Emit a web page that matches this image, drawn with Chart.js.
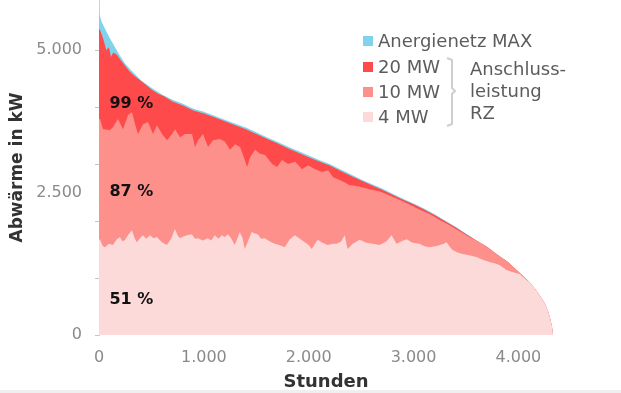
<!DOCTYPE html>
<html>
<head>
<meta charset="utf-8">
<script src="https://cdn.jsdelivr.net/npm/chart.js@4/dist/chart.umd.min.js"></script>
<style>
  html, body { margin: 0; padding: 0; background: #fff; }
  #wrap { position: relative; width: 621px; height: 393px; }
  #band { position: absolute; left: 0; bottom: 0; width: 621px; height: 3px; background: #efefef; }
</style>
</head>
<body>
<div id="wrap">
  <canvas id="chart" width="621" height="393"></canvas>
  <div id="band"></div>
</div>
<script>
// [Stunden, kW] pairs
const anergieMax = [
  [0,5650],[25,5500],[50,5400],[100,5220],[150,5060],[200,4900],[250,4760],[300,4660],
  [400,4470],[500,4340],[600,4220],[700,4130],[800,4060],[900,3970],[1000,3920],[1100,3850],
  [1200,3780],[1300,3710],[1400,3640],[1500,3560],[1600,3470],[1700,3390],[1800,3310],[1900,3230],
  [2000,3150],[2100,3070],[2200,3000],[2300,2910],[2400,2820],[2500,2730],[2600,2650],[2700,2570],
  [2800,2480],[2900,2390],[3000,2310],[3100,2220],[3200,2120],[3300,2010],[3400,1900],[3500,1780],
  [3600,1660],[3700,1550],[3800,1410],[3900,1280],[4000,1110],[4100,940],[4150,830],[4200,700],
  [4250,560],[4280,430],[4300,310],[4320,150],[4330,0]
];
const mw20 = [
  [0,5380],[15,5330],[40,5200],[70,5000],[95,5050],[115,4880],[135,4960],[170,4920],[200,4840],
  [250,4720],[290,4630],[330,4560],[380,4490],[440,4400],[500,4310],[560,4240],[620,4190],[700,4100],
  [800,4030],[900,3940],[1000,3890],[1100,3820],[1200,3750],[1300,3680],[1400,3610],[1500,3530],
  [1600,3445],[1700,3365],[1800,3280],[1900,3200],[2000,3120],[2100,3045],[2200,2975],[2300,2885],
  [2400,2795],[2500,2710],[2600,2630],[2700,2550],[2800,2460],[2900,2375],[3000,2295],[3100,2205],
  [3200,2105],[3300,1998],[3400,1890],[3500,1770],
  [3600,1660],[3700,1550],[3800,1410],[3900,1280],[4000,1110],[4100,940],[4150,830],[4200,700],
  [4250,560],[4280,430],[4300,310],[4320,150],[4330,0]
];
const mw10 = [
  [0,3790],[10,3790],[38,3610],[105,3600],[134,3650],[181,3790],[229,3610],[277,3860],[315,3910],
  [344,3700],[372,3530],[420,3700],[468,3740],[515,3530],[553,3680],[601,3530],[649,3420],[697,3530],
  [725,3610],[773,3470],[821,3530],[887,3530],[916,3300],[945,3420],[992,3530],[1040,3300],[1088,3420],
  [1155,3440],[1202,3390],[1250,3250],[1298,3350],[1345,3300],[1374,3160],[1412,2950],[1441,3120],
  [1489,3250],[1536,3180],[1584,3160],[1651,3000],[1698,2950],[1746,3070],[1803,3000],[1870,3040],
  [1937,2910],[1994,2980],[2061,2910],[2128,2860],[2185,2890],[2233,2770],[2295,2720],[2340,2680],
  [2390,2630],[2440,2620],[2490,2600],[2580,2560],[2680,2520],[2770,2450],[2870,2370],[2960,2290],
  [3060,2200],[3150,2130],[3250,2020],[3340,1930],[3440,1820],[3530,1720],
  [3600,1660],[3700,1550],[3800,1410],[3900,1280],[4000,1110],[4100,940],[4150,830],[4200,700],
  [4250,560],[4280,430],[4300,310],[4320,150],[4330,0]
];
const mw4 = [
  [0,1680],[10,1670],[35,1560],[57,1540],[95,1600],[133,1580],[170,1680],[200,1720],[225,1640],
  [248,1670],[280,1760],[314,1840],[340,1700],[362,1630],[390,1700],[419,1750],[450,1690],[486,1750],
  [520,1700],[552,1720],[600,1630],[648,1580],[690,1700],[724,1860],[750,1750],[771,1700],[805,1730],
  [838,1750],[886,1770],[915,1690],[943,1700],[990,1660],[1038,1700],[1070,1660],[1105,1750],
  [1140,1690],[1171,1750],[1200,1720],[1229,1770],[1260,1700],[1295,1580],[1320,1700],[1343,1810],
  [1370,1700],[1390,1510],[1420,1640],[1457,1810],[1485,1780],[1514,1770],[1545,1690],[1581,1700],
  [1630,1640],[1676,1600],[1720,1580],[1771,1540],[1820,1680],[1867,1750],[1910,1700],[1962,1630],
  [2000,1580],[2029,1510],[2060,1600],[2086,1670],[2130,1620],[2181,1580],[2230,1600],[2267,1600],
  [2310,1640],[2343,1750],[2371,1510],[2420,1600],[2486,1670],[2550,1620],[2610,1600],[2676,1580],
  [2740,1640],[2790,1750],[2838,1600],[2880,1640],[2933,1680],[2990,1620],[3057,1600],[3100,1560],
  [3152,1540],[3220,1560],[3290,1600],[3314,1630],[3340,1560],[3371,1490],[3420,1450],[3467,1420],
  [3530,1400],[3600,1370],[3660,1320],[3724,1280],[3770,1260],[3819,1230],[3886,1140],[3950,1100],
  [4010,1070],[4050,1010],[4080,960],
  [4100,940],[4150,830],[4200,700],[4250,560],[4280,430],[4300,310],[4320,150],[4330,0]
];

const seriesNames = ['Anergienetz MAX', '20 MW', '10 MW', '4 MW'];
const yTicks = [0, 1000, 2000, 2500, 3000, 4000, 5000];
const yLabelled = [0, 2500, 5000];
const xTicks = [0, 1000, 2000, 3000, 4000];
const pctLabels = ['99 %', '87 %', '51 %'];
const bracketText = ['Anschluss-', 'leistung', 'RZ'];

const colors = ['#80d3ea', '#fe4a4a', '#fe908c', '#fcdad9'];

function fmt(v) {
    if (v < 1000) return String(v);
    return Math.floor(v / 1000) + '.' + String(v % 1000).padStart(3, '0');
}

function toPoints(pairs) {
    return pairs.map(p => ({ x: p[0], y: p[1] }));
}

const allSeries = [anergieMax, mw20, mw10, mw4];

const datasets = allSeries.map((s, i) => ({
    label: seriesNames[i],
    data: toPoints(s),
    backgroundColor: colors[i],
    borderWidth: 0,
    pointRadius: 0,
    fill: 'origin',
    tension: 0,
    order: 3 - i
}));

// legend, bracket and the percent labels
const extras = {
    id: 'extras',
    afterDatasetsDraw(chart) {
        const ctx = chart.ctx;
        const xs = chart.scales.x, ys = chart.scales.y;
        ctx.save();

        // percent labels inside the bands
        const pctAt = [4050, 2510, 615];
        ctx.font = 'bold 16px "DejaVu Sans"';
        ctx.fillStyle = '#111';
        ctx.textAlign = 'left';
        ctx.textBaseline = 'middle';
        pctLabels.forEach((t, i) => {
            ctx.fillText(t, xs.getPixelForValue(100), ys.getPixelForValue(pctAt[i]));
        });

        // legend
        const legY = [41, 67, 92, 117];
        ctx.font = '18px "DejaVu Sans"';
        seriesNames.forEach((n, i) => {
            ctx.fillStyle = colors[i];
            ctx.fillRect(363, legY[i] - 5, 10, 10);
            ctx.fillStyle = '#5c5c5c';
            ctx.fillText(n, 378, legY[i] + 1);
        });

        // bracket
        ctx.strokeStyle = '#cfcfcf';
        ctx.lineWidth = 2;
        ctx.beginPath();
        ctx.moveTo(447, 58);
        ctx.lineTo(452, 60);
        ctx.lineTo(452, 88);
        ctx.lineTo(455, 91);
        ctx.lineTo(452, 94);
        ctx.lineTo(452, 124);
        ctx.lineTo(447, 126);
        ctx.stroke();

        const brY = [70, 92, 114];
        bracketText.forEach((t, i) => {
            ctx.fillText(t, 470, brY[i]);
        });
        ctx.restore();
    }
};

new Chart(document.getElementById('chart'), {
    type: 'line',
    data: { datasets: datasets },
    plugins: [extras],
    options: {
        responsive: false,
        animation: false,
        layout: { padding: { left: 4, right: 68, top: 0, bottom: 0 } },
        plugins: {
            legend: { display: false },
            tooltip: { enabled: false }
        },
        scales: {
            x: {
                type: 'linear',
                min: 0,
                max: 4330,
                afterBuildTicks: (scale) => { scale.ticks = xTicks.map(v => ({ value: v })); },
                afterFit: (scale) => {
                    scale.height = 58;
                    scale.paddingLeft = 0;
                    scale.paddingRight = 0;
                },
                grid: { display: false, drawTicks: false },
                border: { display: false },
                ticks: {
                    autoSkip: false,
                    maxRotation: 0,
                    padding: 13,
                    color: '#8a8a8a',
                    font: { family: 'DejaVu Sans', size: 16 },
                    callback: (v) => fmt(v)
                },
                title: {
                    display: true,
                    text: 'Stunden',
                    color: '#333',
                    padding: { top: 0, bottom: 0 },
                    font: { family: 'DejaVu Sans', size: 18, weight: 'bold' }
                }
            },
            y: {
                min: 0,
                max: 5880,
                afterBuildTicks: (scale) => { scale.ticks = yTicks.map(v => ({ value: v })); },
                afterFit: (scale) => {
                    scale.width = 95;
                    scale.paddingTop = 0;
                    scale.paddingBottom = 0;
                },
                grid: {
                    drawOnChartArea: false,
                    drawTicks: true,
                    tickLength: 4,
                    tickColor: (c) => (c.tick && c.tick.value === 2500) ? 'rgba(0,0,0,0)' : '#c4c4c4'
                },
                border: { display: true, color: '#d0d0d0', width: 1 },
                ticks: {
                    autoSkip: false,
                    padding: 13,
                    color: '#8a8a8a',
                    font: { family: 'DejaVu Sans', size: 16 },
                    callback: (v) => yLabelled.includes(v) ? fmt(v) : ''
                },
                title: {
                    display: true,
                    text: 'Abwärme in kW',
                    color: '#333',
                    padding: { top: 3, bottom: 0 },
                    font: { family: 'DejaVu Sans', size: 17, weight: 'bold' }
                }
            }
        }
    }
});
</script>
</body>
</html>
